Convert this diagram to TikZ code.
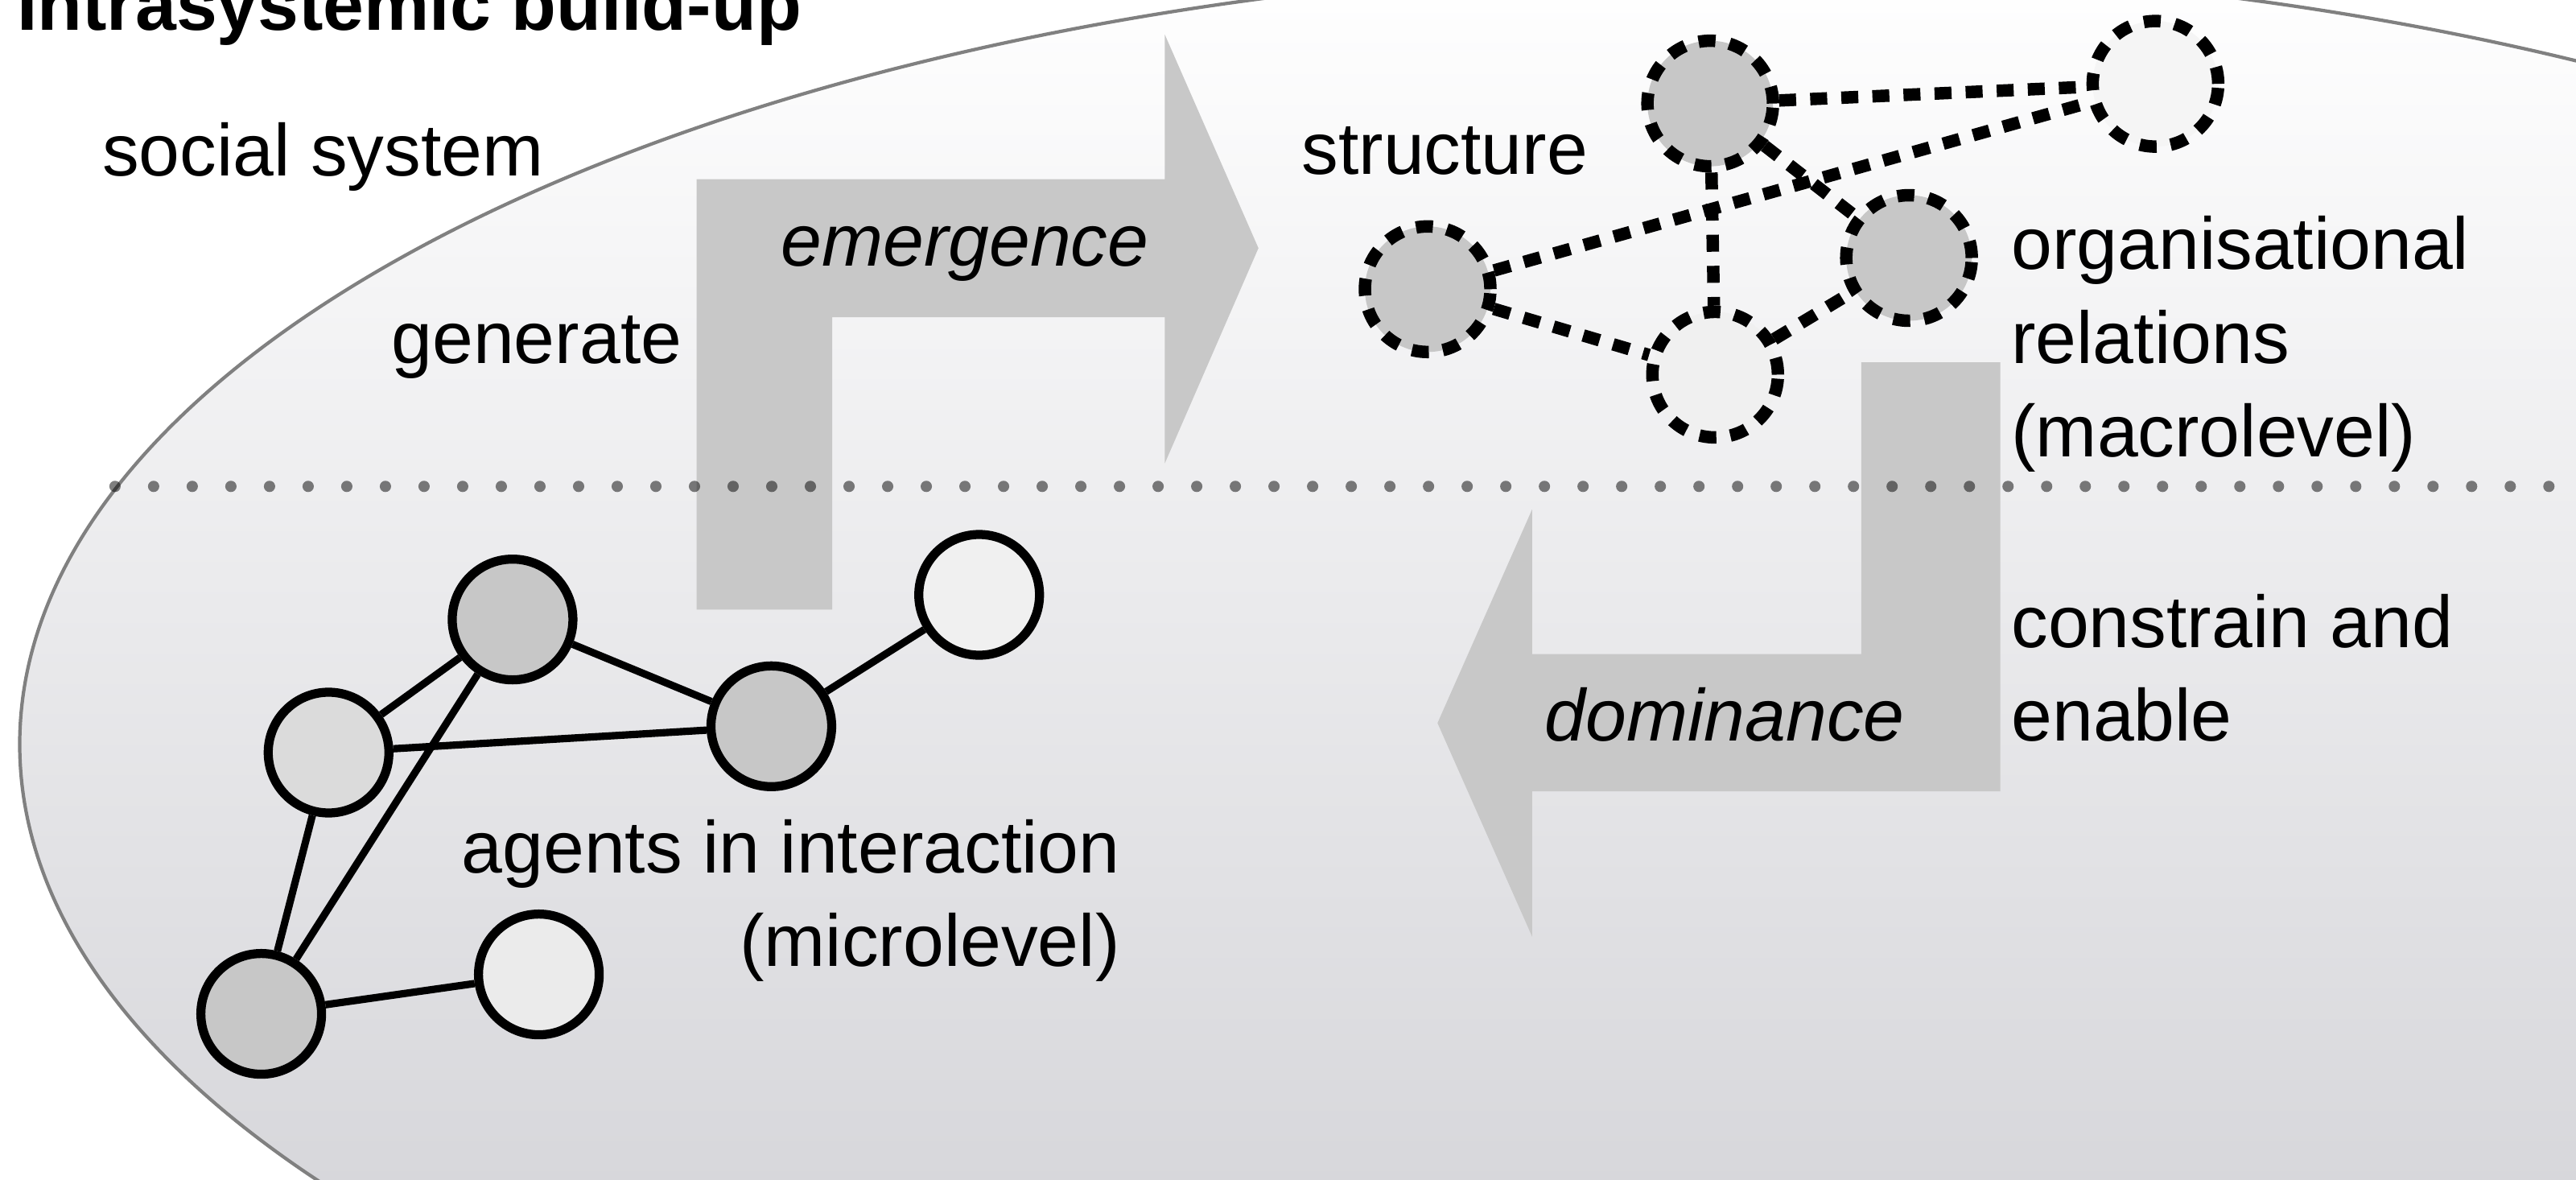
\documentclass[tikz,border=0pt]{standalone}
\usepackage{fontspec}
\setmainfont{Liberation Sans}
\definecolor{sysbottom}{rgb}{0.80,0.80,0.82}
\definecolor{flowgray}{HTML}{C8C8C8}
\newcommand\lblfont{\fontsize{26}{33.1}\selectfont}

\begin{document}
\begin{tikzpicture}[x=0.020415cm,y=-0.020415cm,
    agent/.style={circle,draw,line width=3.2pt,minimum size=1.5cm,inner sep=0pt},
    unit/.style={circle,draw,line width=4.4pt,dash pattern=on 6pt off 5pt,minimum size=1.56cm,inner sep=0pt},
    tie/.style={line width=2.6pt},
    rel/.style={line width=4.4pt,dash pattern=on 6pt off 5pt},
    lbl/.style={inner sep=0pt,font=\lblfont}]
    \useasboundingbox (0,0) rectangle (1568,718);
    \clip (0,0) rectangle (1568,718);
    \path[top color=white,bottom color=sysbottom,draw=gray,line width=1.2pt] (1066,453) ellipse [x radius=1054,y radius=473];
    \fill[flowgray] (424,371)--(424,109)--(709,109)--(709,21)--(766,151)--(709,282)--(709,193)--(506.5,193)--(506.5,371)--cycle;
    \fill[flowgray] (1133,220.5)--(1217.6,220.5)--(1217.6,481.6)--(932.6,481.6)--(932.6,570)--(875,440)--(932.6,310)--(932.6,398)--(1133,398)--cycle;
    \draw[black,opacity=0.5,line width=4pt,line cap=round,dash pattern=on 0pt off 13.66pt] (70,296)--(1580,296);
    \node[agent,fill=black!22] (a1) at (312,377) {};
    \node[agent,fill=black!14] (a2) at (200,458) {};
    \node[agent,fill=black!22] (a3) at (469.5,442) {};
    \node[agent,fill=black!6] (a4) at (596,362) {};
    \node[agent,fill=black!22] (a5) at (159,617) {};
    \node[agent,fill=black!8] (a6) at (328,593) {};
    \draw[tie] (a1)--(a2) (a1)--(a3) (a1)--(a5) (a2)--(a3) (a2)--(a5) (a3)--(a4) (a5)--(a6);
    \node[unit,fill=black!22] (s1) at (1041,63) {};
    \node[unit,fill=black!4] (s2) at (1312,51) {};
    \node[unit,fill=black!22] (s3) at (869,176) {};
    \node[unit,fill=black!22] (s4) at (1162,157) {};
    \node[unit,fill=black!6] (s5) at (1044,228) {};
    \draw[rel] (s1)--(s2) (s1)--(s4) (s1)--(s5) (s3)--(s2) (s3)--(s5) (s5)--(s4);
    \node[lbl,font=\lblfont\bfseries,anchor=base west] (title) at (10,18.5) {Intrasystemic build-up};
    \node[lbl,anchor=base west] (sys) at (62,107) {social system};
    \node[lbl,anchor=base west] (gen) at (238,221) {generate};
    \node[lbl,font=\lblfont\itshape,anchor=base west] (emg) at (475,162) {emergence};
    \node[lbl,anchor=base west] (str) at (792,106) {structure};
    \node[lbl,anchor=base west,align=left] (org) at (1224,278) {organisational\\relations\\(macrolevel)};
    \node[lbl,anchor=base west,align=left] (con) at (1224,451) {constrain and\\enable};
    \node[lbl,font=\lblfont\itshape,anchor=base west] (dom) at (940,451) {dominance};
    \node[lbl,anchor=base east,align=right] (agt) at (682,588) {agents in interaction\\(microlevel)};
\end{tikzpicture}
\end{document}
